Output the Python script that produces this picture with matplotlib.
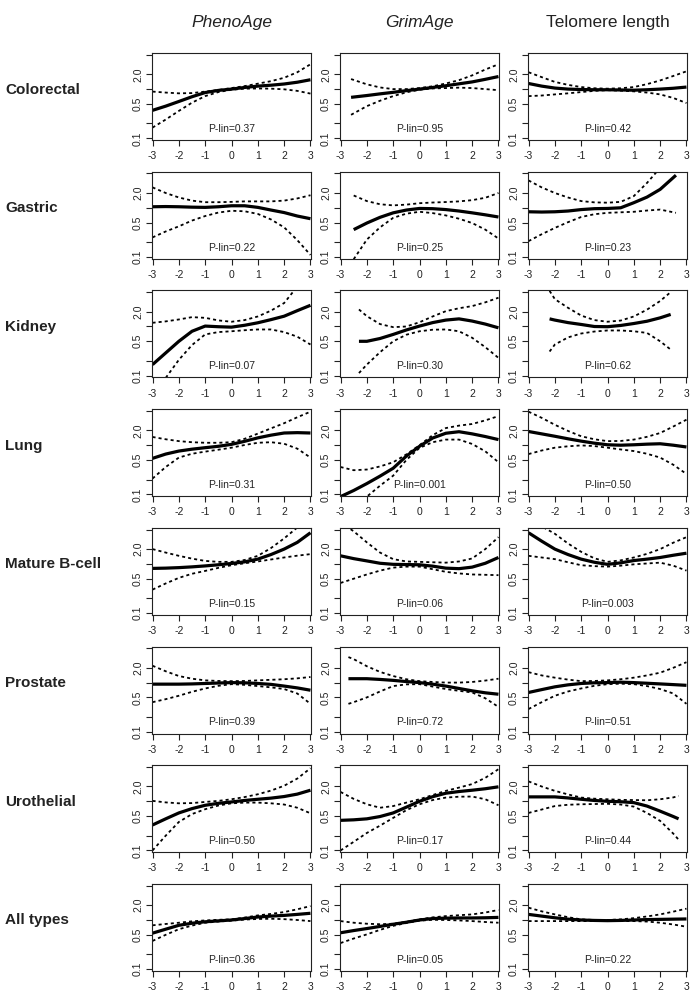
import matplotlib
matplotlib.use("Agg")
import matplotlib.pyplot as plt
import matplotlib.transforms as mtransforms

plt.rcParams['font.family'] = ['Liberation Sans', 'DejaVu Sans']
plt.rcParams['lines.scale_dashes'] = False

# ---- data (hazard ratio vs standardised ageing measure) ----
X_FULL = [-3, -2.5, -2, -1.5, -1, -0.5, 0, 0.5, 1, 1.5, 2, 2.5, 3]

col_titles = ['PhenoAge', 'GrimAge', 'Telomere length']
row_labels = ['Colorectal', 'Gastric', 'Kidney', 'Lung', 'Mature B-cell',
              'Prostate', 'Urothelial', 'All types']
p_lin = [['0.37', '0.95', '0.42'],
         ['0.22', '0.25', '0.23'],
         ['0.07', '0.30', '0.62'],
         ['0.31', '0.001', '0.50'],
         ['0.15', '0.06', '0.003'],
         ['0.39', '0.72', '0.51'],
         ['0.50', '0.17', '0.44'],
         ['0.36', '0.05', '0.22']]

# Colorectal
colorectal_pheno_x = X_FULL
colorectal_pheno_est = [0.37, 0.45, 0.56, 0.70, 0.85, 0.94, 1.00, 1.08, 1.15, 1.20, 1.27, 1.38, 1.55]
colorectal_pheno_hi = [0.89, 0.85, 0.82, 0.83, 0.89, 0.96, 1.05, 1.15, 1.29, 1.45, 1.70, 2.20, 3.20]
colorectal_pheno_lo = [0.165, 0.24, 0.36, 0.53, 0.72, 0.87, 0.97, 1.02, 1.03, 1.02, 0.99, 0.92, 0.81]

colorectal_grim_x = [-2.6, -2, -1.5, -1, -0.5, 0, 0.5, 1, 1.5, 2, 2.5, 3]
colorectal_grim_est = [0.68, 0.74, 0.80, 0.86, 0.93, 1.00, 1.08, 1.17, 1.28, 1.40, 1.58, 1.80]
colorectal_grim_hi = [1.60, 1.25, 1.08, 1.00, 1.00, 1.05, 1.14, 1.30, 1.52, 1.90, 2.50, 3.20]
colorectal_grim_lo = [0.30, 0.45, 0.58, 0.72, 0.86, 0.97, 1.03, 1.05, 1.07, 1.05, 1.00, 0.95]

colorectal_telo_x = X_FULL
colorectal_telo_est = [1.30, 1.15, 1.05, 1.00, 0.98, 0.97, 0.97, 0.96, 0.95, 0.97, 1.00, 1.04, 1.10]
colorectal_telo_hi = [2.20, 1.75, 1.40, 1.22, 1.10, 1.04, 1.02, 1.04, 1.10, 1.26, 1.50, 1.85, 2.30]
colorectal_telo_lo = [0.72, 0.74, 0.78, 0.82, 0.87, 0.92, 0.95, 0.93, 0.90, 0.85, 0.78, 0.66, 0.52]

# Gastric
gastric_pheno_x = X_FULL
gastric_pheno_est = [1.05, 1.06, 1.05, 1.03, 1.02, 1.05, 1.10, 1.10, 1.02, 0.90, 0.80, 0.68, 0.60]
gastric_pheno_hi = [2.60, 2.00, 1.62, 1.40, 1.30, 1.30, 1.32, 1.35, 1.35, 1.35, 1.40, 1.55, 1.80]
gastric_pheno_lo = [0.25, 0.33, 0.42, 0.55, 0.68, 0.80, 0.87, 0.85, 0.75, 0.58, 0.40, 0.22, 0.11]

gastric_grim_x = [-2.5, -2, -1.5, -1, -0.5, 0, 0.5, 1, 1.5, 2, 2.5, 3]
gastric_grim_est = [0.36, 0.49, 0.64, 0.79, 0.90, 0.97, 0.96, 0.92, 0.86, 0.79, 0.72, 0.65]
gastric_grim_hi = [1.78, 1.37, 1.18, 1.12, 1.16, 1.24, 1.28, 1.31, 1.35, 1.43, 1.60, 2.00]
gastric_grim_lo = [0.09, 0.226, 0.40, 0.625, 0.76, 0.83, 0.78, 0.70, 0.60, 0.49, 0.36, 0.237]

gastric_telo_x = [-3, -2.5, -2, -1.5, -1, -0.5, 0, 0.5, 1, 1.5, 2, 2.6]
gastric_telo_est = [0.83, 0.82, 0.83, 0.86, 0.92, 0.96, 0.97, 1.00, 1.27, 1.65, 2.37, 4.60]
gastric_telo_hi = [3.60, 2.60, 2.00, 1.62, 1.37, 1.29, 1.27, 1.32, 1.73, 3.20, 6.50, 15.0]
gastric_telo_lo = [0.21, 0.29, 0.39, 0.51, 0.65, 0.74, 0.79, 0.81, 0.83, 0.88, 0.92, 0.79]

# Kidney
kidney_pheno_x = X_FULL
kidney_pheno_est = [0.168, 0.29, 0.50, 0.80, 1.02, 0.99, 0.97, 1.06, 1.19, 1.38, 1.62, 2.10, 2.70]
kidney_pheno_hi = [1.19, 1.27, 1.39, 1.55, 1.50, 1.33, 1.25, 1.35, 1.60, 2.10, 3.00, 6.50, 12.0]
kidney_pheno_lo = [0.05, 0.09, 0.21, 0.42, 0.69, 0.77, 0.80, 0.84, 0.87, 0.87, 0.77, 0.62, 0.43]

kidney_grim_x = [-2.3, -2, -1.5, -1, -0.5, 0, 0.5, 1, 1.5, 2, 2.5, 3]
kidney_grim_est = [0.50, 0.50, 0.57, 0.69, 0.85, 1.02, 1.20, 1.35, 1.43, 1.29, 1.12, 0.94]
kidney_grim_hi = [2.22, 1.62, 1.12, 0.97, 1.00, 1.22, 1.60, 2.05, 2.35, 2.60, 3.10, 3.85]
kidney_grim_lo = [0.113, 0.168, 0.30, 0.50, 0.68, 0.80, 0.86, 0.87, 0.80, 0.59, 0.38, 0.23]

kidney_telo_x = [-2.2, -2, -1.5, -1, -0.5, 0, 0.5, 1, 1.5, 2, 2.4]
kidney_telo_est = [1.43, 1.35, 1.20, 1.10, 1.00, 0.99, 1.05, 1.15, 1.28, 1.50, 1.76]
kidney_telo_hi = [5.30, 3.60, 2.40, 1.67, 1.35, 1.25, 1.32, 1.60, 2.20, 3.30, 5.00]
kidney_telo_lo = [0.31, 0.43, 0.60, 0.72, 0.79, 0.83, 0.83, 0.80, 0.74, 0.50, 0.34]

# Lung
lung_pheno_x = X_FULL
lung_pheno_est = [0.54, 0.66, 0.76, 0.83, 0.89, 0.95, 1.04, 1.20, 1.41, 1.60, 1.77, 1.80, 1.77]
lung_pheno_hi = [1.47, 1.32, 1.21, 1.15, 1.12, 1.12, 1.15, 1.35, 1.72, 2.20, 2.80, 3.70, 4.80]
lung_pheno_lo = [0.21, 0.36, 0.56, 0.67, 0.74, 0.81, 0.89, 1.01, 1.12, 1.15, 1.07, 0.85, 0.56]

lung_grim_x = X_FULL
lung_grim_est = [0.09, 0.12, 0.166, 0.235, 0.34, 0.60, 0.95, 1.40, 1.75, 1.88, 1.70, 1.50, 1.30]
lung_grim_hi = [0.36, 0.31, 0.32, 0.37, 0.45, 0.65, 1.00, 1.60, 2.23, 2.50, 2.70, 3.20, 3.90]
lung_grim_lo = [0.03, 0.05, 0.09, 0.15, 0.24, 0.50, 0.88, 1.15, 1.30, 1.30, 1.06, 0.75, 0.45]

lung_telo_x = X_FULL
lung_telo_est = [1.90, 1.70, 1.52, 1.35, 1.21, 1.10, 1.02, 1.00, 1.02, 1.05, 1.07, 1.00, 0.92]
lung_telo_hi = [4.80, 3.60, 2.60, 1.95, 1.52, 1.32, 1.21, 1.22, 1.30, 1.48, 1.77, 2.40, 3.30]
lung_telo_lo = [0.66, 0.78, 0.89, 0.95, 0.99, 0.96, 0.89, 0.82, 0.76, 0.67, 0.56, 0.40, 0.26]

# Mature B-cell
bcell_pheno_x = X_FULL
bcell_pheno_est = [0.81, 0.82, 0.84, 0.87, 0.91, 0.96, 1.02, 1.10, 1.25, 1.55, 2.00, 2.74, 4.30]
bcell_pheno_hi = [2.00, 1.70, 1.46, 1.28, 1.15, 1.10, 1.10, 1.20, 1.46, 2.10, 3.30, 5.50, 9.00]
bcell_pheno_lo = [0.30, 0.40, 0.52, 0.63, 0.72, 0.83, 0.94, 1.03, 1.12, 1.23, 1.35, 1.47, 1.58]

bcell_grim_x = X_FULL
bcell_grim_est = [1.46, 1.28, 1.15, 1.03, 0.98, 0.97, 0.96, 0.90, 0.82, 0.80, 0.86, 1.03, 1.35]
bcell_grim_hi = [7.00, 4.60, 2.74, 1.70, 1.25, 1.12, 1.10, 1.08, 1.06, 1.12, 1.29, 2.00, 3.50]
bcell_grim_lo = [0.41, 0.50, 0.61, 0.73, 0.84, 0.88, 0.88, 0.78, 0.69, 0.64, 0.61, 0.60, 0.59]

bcell_telo_x = X_FULL
bcell_telo_est = [4.30, 2.90, 2.00, 1.55, 1.25, 1.08, 0.98, 1.05, 1.17, 1.25, 1.35, 1.50, 1.65]
bcell_telo_hi = [9.00, 5.80, 4.10, 2.60, 1.76, 1.30, 1.10, 1.18, 1.35, 1.60, 2.00, 2.70, 3.50]
bcell_telo_lo = [1.46, 1.35, 1.25, 1.08, 0.94, 0.90, 0.88, 0.92, 0.98, 1.02, 1.06, 0.92, 0.73]

# Prostate
prostate_pheno_x = X_FULL
prostate_pheno_est = [0.93, 0.93, 0.93, 0.94, 0.96, 0.98, 1.00, 0.99, 0.96, 0.92, 0.85, 0.78, 0.70]
prostate_pheno_hi = [2.20, 1.70, 1.36, 1.20, 1.11, 1.08, 1.07, 1.08, 1.11, 1.14, 1.17, 1.22, 1.30]
prostate_pheno_lo = [0.40, 0.46, 0.54, 0.65, 0.76, 0.86, 0.93, 0.90, 0.85, 0.80, 0.74, 0.60, 0.37]

prostate_grim_x = [-2.7, -2.5, -2, -1.5, -1, -0.5, 0, 0.5, 1, 1.5, 2, 2.5, 3]
prostate_grim_est = [1.20, 1.20, 1.20, 1.16, 1.11, 1.05, 1.00, 0.93, 0.85, 0.76, 0.68, 0.62, 0.58]
prostate_grim_hi = [3.30, 3.00, 2.15, 1.65, 1.36, 1.17, 1.07, 1.03, 1.00, 1.00, 1.03, 1.10, 1.20]
prostate_grim_lo = [0.37, 0.40, 0.50, 0.66, 0.85, 0.92, 0.93, 0.83, 0.74, 0.68, 0.63, 0.48, 0.32]

prostate_telo_x = X_FULL
prostate_telo_est = [0.63, 0.72, 0.82, 0.90, 0.96, 0.99, 1.00, 1.02, 1.00, 0.97, 0.94, 0.91, 0.88]
prostate_telo_hi = [1.63, 1.40, 1.26, 1.15, 1.07, 1.08, 1.11, 1.17, 1.26, 1.40, 1.59, 2.00, 2.60]
prostate_telo_lo = [0.29, 0.40, 0.54, 0.66, 0.76, 0.86, 0.93, 0.95, 0.93, 0.85, 0.74, 0.60, 0.37]

# Urothelial
uro_pheno_x = X_FULL
uro_pheno_est = [0.33, 0.44, 0.58, 0.71, 0.83, 0.91, 0.97, 1.04, 1.10, 1.16, 1.25, 1.40, 1.68]
uro_pheno_hi = [1.02, 0.95, 0.91, 0.92, 0.97, 1.02, 1.10, 1.22, 1.39, 1.65, 2.07, 2.90, 4.70]
uro_pheno_lo = [0.10, 0.20, 0.38, 0.55, 0.69, 0.82, 0.91, 0.94, 0.94, 0.91, 0.86, 0.74, 0.57]

uro_grim_x = X_FULL
uro_grim_est = [0.41, 0.42, 0.44, 0.49, 0.58, 0.76, 1.00, 1.24, 1.46, 1.58, 1.68, 1.80, 1.97]
uro_grim_hi = [1.55, 1.12, 0.87, 0.74, 0.80, 0.94, 1.10, 1.34, 1.63, 1.90, 2.24, 3.00, 4.50]
uro_grim_lo = [0.10, 0.15, 0.227, 0.32, 0.46, 0.66, 0.87, 1.06, 1.19, 1.24, 1.25, 1.10, 0.83]

uro_telo_x = [-3, -2.5, -2, -1.5, -1, -0.5, 0, 0.5, 1, 1.5, 2, 2.5, 2.7]
uro_telo_est = [1.23, 1.23, 1.23, 1.17, 1.10, 1.04, 1.00, 0.98, 0.94, 0.80, 0.63, 0.49, 0.44]
uro_telo_hi = [2.54, 2.00, 1.63, 1.38, 1.19, 1.13, 1.10, 1.07, 1.06, 1.05, 1.10, 1.20, 1.29]
uro_telo_lo = [0.58, 0.68, 0.80, 0.85, 0.87, 0.88, 0.89, 0.86, 0.78, 0.58, 0.40, 0.22, 0.166]

# All types
all_pheno_x = X_FULL
all_pheno_est = [0.54, 0.65, 0.78, 0.86, 0.92, 0.96, 1.00, 1.07, 1.15, 1.20, 1.24, 1.30, 1.37]
all_pheno_hi = [0.78, 0.83, 0.88, 0.94, 0.98, 1.01, 1.03, 1.12, 1.24, 1.33, 1.45, 1.65, 1.92]
all_pheno_lo = [0.375, 0.50, 0.65, 0.77, 0.88, 0.93, 0.97, 1.02, 1.05, 1.06, 1.04, 1.00, 0.95]

all_grim_x = X_FULL
all_grim_est = [0.55, 0.61, 0.67, 0.74, 0.82, 0.90, 1.00, 1.07, 1.09, 1.10, 1.10, 1.11, 1.13]
all_grim_hi = [0.95, 0.88, 0.84, 0.82, 0.84, 0.92, 1.03, 1.13, 1.20, 1.25, 1.30, 1.42, 1.60]
all_grim_lo = [0.34, 0.42, 0.51, 0.63, 0.76, 0.87, 0.97, 1.01, 1.00, 0.98, 0.95, 0.91, 0.88]

all_telo_x = X_FULL
all_telo_est = [1.30, 1.20, 1.11, 1.04, 1.00, 0.98, 0.97, 0.98, 1.00, 1.02, 1.03, 1.04, 1.05]
all_telo_hi = [1.78, 1.50, 1.30, 1.14, 1.03, 1.00, 1.00, 1.03, 1.09, 1.18, 1.30, 1.48, 1.70]
all_telo_lo = [0.95, 0.95, 0.95, 0.95, 0.95, 0.95, 0.95, 0.95, 0.95, 0.93, 0.88, 0.81, 0.73]

panels = [
    [(colorectal_pheno_x, colorectal_pheno_est, colorectal_pheno_lo, colorectal_pheno_hi),
     (colorectal_grim_x, colorectal_grim_est, colorectal_grim_lo, colorectal_grim_hi),
     (colorectal_telo_x, colorectal_telo_est, colorectal_telo_lo, colorectal_telo_hi)],
    [(gastric_pheno_x, gastric_pheno_est, gastric_pheno_lo, gastric_pheno_hi),
     (gastric_grim_x, gastric_grim_est, gastric_grim_lo, gastric_grim_hi),
     (gastric_telo_x, gastric_telo_est, gastric_telo_lo, gastric_telo_hi)],
    [(kidney_pheno_x, kidney_pheno_est, kidney_pheno_lo, kidney_pheno_hi),
     (kidney_grim_x, kidney_grim_est, kidney_grim_lo, kidney_grim_hi),
     (kidney_telo_x, kidney_telo_est, kidney_telo_lo, kidney_telo_hi)],
    [(lung_pheno_x, lung_pheno_est, lung_pheno_lo, lung_pheno_hi),
     (lung_grim_x, lung_grim_est, lung_grim_lo, lung_grim_hi),
     (lung_telo_x, lung_telo_est, lung_telo_lo, lung_telo_hi)],
    [(bcell_pheno_x, bcell_pheno_est, bcell_pheno_lo, bcell_pheno_hi),
     (bcell_grim_x, bcell_grim_est, bcell_grim_lo, bcell_grim_hi),
     (bcell_telo_x, bcell_telo_est, bcell_telo_lo, bcell_telo_hi)],
    [(prostate_pheno_x, prostate_pheno_est, prostate_pheno_lo, prostate_pheno_hi),
     (prostate_grim_x, prostate_grim_est, prostate_grim_lo, prostate_grim_hi),
     (prostate_telo_x, prostate_telo_est, prostate_telo_lo, prostate_telo_hi)],
    [(uro_pheno_x, uro_pheno_est, uro_pheno_lo, uro_pheno_hi),
     (uro_grim_x, uro_grim_est, uro_grim_lo, uro_grim_hi),
     (uro_telo_x, uro_telo_est, uro_telo_lo, uro_telo_hi)],
    [(all_pheno_x, all_pheno_est, all_pheno_lo, all_pheno_hi),
     (all_grim_x, all_grim_est, all_grim_lo, all_grim_hi),
     (all_telo_x, all_telo_est, all_telo_lo, all_telo_hi)],
]

y_ticks = [0.1, 0.2, 0.5, 1.0, 2.0, 5.0]
y_ticklabels = ['0.1', '', '0.5', '', '2.0', '']
x_ticks = [-3, -2, -1, 0, 1, 2, 3]

# ---- layout (pixels of a 692 x 999 canvas) ----
W, H = 692, 999
fig = plt.figure(figsize=(W / 100, H / 100), dpi=100)

col_left = [152, 340, 528]
box_w = 159
box_h = 87
first_bottom = 140
row_step = 118.7

for i, row in enumerate(panels):
    bottom_px = first_bottom + row_step * i
    for j, (x, est, lo, hi) in enumerate(row):
        ax = fig.add_axes([col_left[j] / W, 1 - bottom_px / H, box_w / W, box_h / H])
        ax.plot(x, hi, color='black', lw=1.3, ls=(0, (2.2, 2.2)))
        ax.plot(x, lo, color='black', lw=1.3, ls=(0, (2.2, 2.2)))
        ax.plot(x, est, color='black', lw=2.3, solid_capstyle='butt')
        ax.set_yscale('log')
        ax.set_xlim(-3.02, 3.02)
        ax.set_ylim(10 ** -1.035, 10 ** (0.699 + 0.035))
        ax.set_yticks(y_ticks)
        ax.set_yticklabels(y_ticklabels)
        ax.yaxis.set_minor_locator(matplotlib.ticker.NullLocator())
        ax.set_xticks(x_ticks)
        ax.set_xticklabels([str(t) for t in x_ticks])
        ax.tick_params(axis='both', direction='out', length=4, width=0.8,
                       labelsize=7.5, colors='#222222')
        ax.tick_params(axis='x', pad=4)
        ax.tick_params(axis='y', pad=2.5, labelrotation=90)
        for lab in ax.get_yticklabels():
            lab.set_va('center')
        for sp in ax.spines.values():
            sp.set_linewidth(0.8)
            sp.set_color('#222222')
        ax.text(0, 0.155, 'P-lin=' + p_lin[i][j], ha='center', va='center',
                fontsize=7.5, color='#222222')
        if j == 0:
            trans = mtransforms.blended_transform_factory(fig.transFigure, ax.transAxes)
            ax.text(5 / W, 0.58, row_labels[i], transform=trans, ha='left',
                    va='center', fontsize=11, fontweight='bold', color='#222222')
        if i == 0:
            ax.text(0.5, 1 - 22 / H, col_titles[j], transform=mtransforms.blended_transform_factory(ax.transAxes, fig.transFigure),
                    ha='center', va='center', fontsize=12.5,
                    fontstyle='normal' if j == 2 else 'italic', color='#222222')

fig.savefig('out.png', dpi=100)
